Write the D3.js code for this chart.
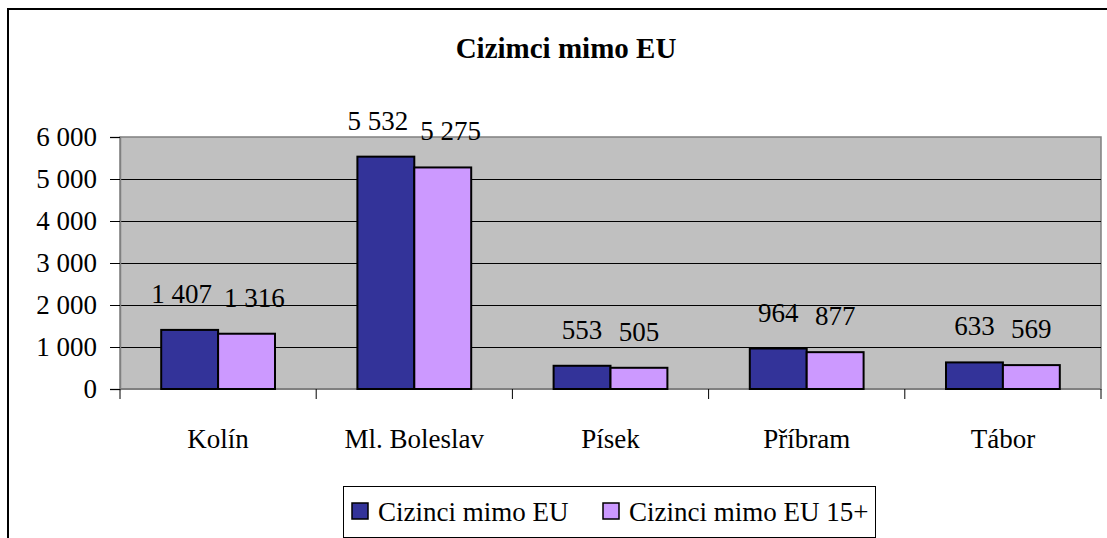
<!DOCTYPE html>
<html>
<head>
<meta charset="utf-8">
<script src="https://cdn.jsdelivr.net/npm/d3@7/dist/d3.min.js"></script>
</head>
<body style="margin:0">
<script>
// data
var categories = ["Kolín", "Ml. Boleslav", "Písek", "Příbram", "Tábor"];
var seriesNames = ["Cizinci mimo EU", "Cizinci mimo EU 15+"];
var seriesAll = [1407, 5532, 553, 964, 633];
var series15 = [1316, 5275, 505, 877, 569];
var yTicks = [0, 1000, 2000, 3000, 4000, 5000, 6000];
var colors = ["#333399", "#CC99FF"];

var W = 1107, H = 538;
var plot = {left: 120, right: 1101, top: 137, bottom: 389};
var fontSize = "27px";
var serif = "'Liberation Serif'";

var fmt = function(v) { return d3.format(",")(v).replace(/,/g, " "); };

// every text gets the font inline
function styleText(sel, size) {
    return sel.style("font-family", serif).style("font-size", size || fontSize).attr("fill", "#000");
}

var svg = d3.select("body").append("svg")
    .attr("width", W)
    .attr("height", H);

svg.append("rect").attr("width", W).attr("height", H).attr("fill", "#fff");

// outer chart border (runs off the window on right/bottom)
svg.append("rect")
    .attr("x", 8).attr("y", 9)
    .attr("width", 1300).attr("height", 700)
    .attr("fill", "none").attr("stroke", "#000").attr("stroke-width", 2);

// title
styleText(svg.append("text")
    .attr("x", 566).attr("y", 58)
    .attr("text-anchor", "middle")
    .text("Cizimci mimo EU"), "29px")
    .style("font-weight", "bold");

var x = d3.scaleBand().domain(categories).range([plot.left, plot.right]).padding(0);
var groupW = x.bandwidth() * 0.58;
var xs = d3.scaleBand().domain([0, 1])
    .range([(x.bandwidth() - groupW) / 2, (x.bandwidth() + groupW) / 2]);
var y = d3.scaleLinear().domain([0, 6000]).range([plot.bottom, plot.top]);

// plot area
svg.append("rect")
    .attr("x", plot.left).attr("y", plot.top)
    .attr("width", plot.right - plot.left).attr("height", plot.bottom - plot.top)
    .attr("fill", "#C0C0C0").attr("stroke", "#808080").attr("stroke-width", 1.5);

// gridlines
svg.append("g").selectAll("line")
    .data(yTicks.filter(function(d) { return d > 0 && d < 6000; }))
    .enter().append("line")
    .attr("x1", plot.left).attr("x2", plot.right)
    .attr("y1", function(d) { return Math.round(y(d)) + 0.5; })
    .attr("y2", function(d) { return Math.round(y(d)) + 0.5; })
    .attr("stroke", "#000").attr("stroke-width", 1);

// y axis
var yAxis = d3.axisLeft(y).tickValues(yTicks).tickFormat(fmt).tickSize(10).tickPadding(13);
var gy = svg.append("g").attr("transform", "translate(" + plot.left + ",0)").call(yAxis)
    .attr("font-family", null).attr("font-size", null);
gy.select(".domain").attr("stroke", "#808080").attr("stroke-width", 1.5);
gy.selectAll(".tick line").attr("stroke", "#000");
styleText(gy.selectAll("text"));

// x axis: ticks at category boundaries
var gx = svg.append("g");
gx.append("line")
    .attr("x1", plot.left).attr("x2", plot.right)
    .attr("y1", plot.bottom).attr("y2", plot.bottom)
    .attr("stroke", "#808080").attr("stroke-width", 2);
var bounds = categories.map(function(c) { return x(c); }).concat([plot.right]);
gx.selectAll("line.tk").data(bounds).enter().append("line")
    .attr("class", "tk")
    .attr("x1", function(d) { return d; }).attr("x2", function(d) { return d; })
    .attr("y1", plot.bottom).attr("y2", plot.bottom + 10)
    .attr("stroke", "#000").attr("stroke-width", 1);
styleText(gx.selectAll("text").data(categories).enter().append("text")
    .attr("x", function(d) { return x(d) + x.bandwidth() / 2; })
    .attr("y", 448)
    .attr("text-anchor", "middle")
    .text(function(d) { return d; }));

// bars
var rows = categories.map(function(c, i) { return {cat: c, vals: [seriesAll[i], series15[i]]}; });
var groups = svg.append("g").selectAll("g")
    .data(rows).enter().append("g")
    .attr("transform", function(d) { return "translate(" + x(d.cat) + ",0)"; });

groups.selectAll("rect")
    .data(function(d) { return d.vals.map(function(v, k) { return {k: k, v: v}; }); })
    .enter().append("rect")
    .attr("x", function(d) { return xs(d.k); })
    .attr("width", xs.bandwidth())
    .attr("y", function(d) { return y(d.v); })
    .attr("height", function(d) { return y(0) - y(d.v); })
    .attr("fill", function(d) { return colors[d.k]; })
    .attr("stroke", "#000").attr("stroke-width", 2);

// value labels, pushed apart when they would collide
groups.each(function(d) {
    var g = d3.select(this);
    var labels = d.vals.map(function(v, k) {
        return styleText(g.append("text")
            .attr("x", xs(k) + xs.bandwidth() / 2)
            .attr("y", y(v) - 27)
            .attr("text-anchor", "middle")
            .text(fmt(v)));
    });
    var w0 = labels[0].node().getComputedTextLength();
    var w1 = labels[1].node().getComputedTextLength();
    var c0 = xs(0) + xs.bandwidth() / 2, c1 = xs(1) + xs.bandwidth() / 2;
    var gap = (c1 - w1 / 2) - (c0 + w0 / 2);
    var minGap = 12;
    if (gap < minGap) {
        var s = (minGap - gap) / 2;
        labels[0].attr("x", c0 - s);
        labels[1].attr("x", c1 + s);
    }
});

// legend
var lg = svg.append("g");
lg.append("rect")
    .attr("x", 343.5).attr("y", 486.5).attr("width", 532).attr("height", 51)
    .attr("fill", "#fff").attr("stroke", "#000").attr("stroke-width", 1);
var legendX = [352, 603];
seriesNames.forEach(function(name, k) {
    lg.append("rect")
        .attr("x", legendX[k]).attr("y", 503).attr("width", 16).attr("height", 16)
        .attr("fill", colors[k]).attr("stroke", "#000").attr("stroke-width", 1.5);
    styleText(lg.append("text")
        .attr("x", legendX[k] + 26).attr("y", 521)
        .text(name));
});
</script>
</body>
</html>
